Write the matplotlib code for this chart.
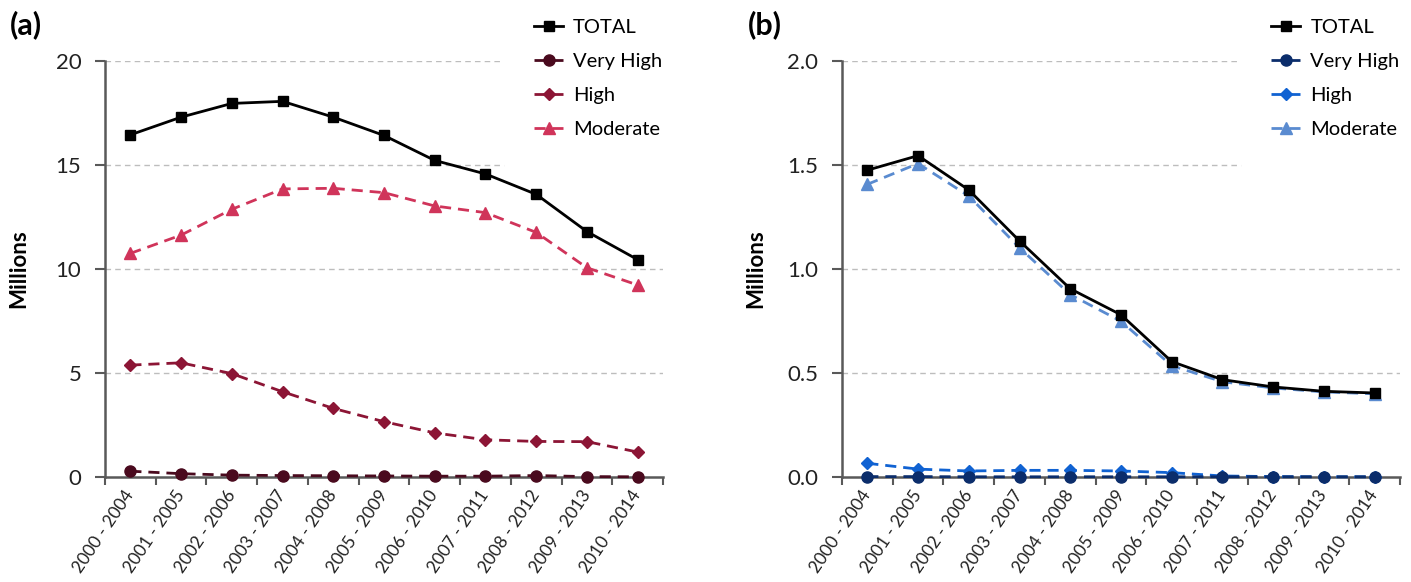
import matplotlib
matplotlib.use("Agg")
import matplotlib.pyplot as plt

plt.rcParams["font.family"] = ["Lato", "DejaVu Sans"]

periods = ["2000 - 2004", "2001 - 2005", "2002 - 2006", "2003 - 2007", "2004 - 2008",
           "2005 - 2009", "2006 - 2010", "2007 - 2011", "2008 - 2012", "2009 - 2013",
           "2010 - 2014"]

# panel (a)
a_total = [16.45, 17.3, 17.96, 18.06, 17.3, 16.42, 15.22, 14.57, 13.59, 11.8, 10.45]
a_very_high = [0.28, 0.16, 0.09, 0.07, 0.06, 0.05, 0.04, 0.04, 0.07, 0.02, 0.01]
a_high = [5.38, 5.49, 4.97, 4.1, 3.3, 2.66, 2.12, 1.79, 1.71, 1.7, 1.2]
a_moderate = [10.75, 11.63, 12.87, 13.85, 13.88, 13.67, 13.03, 12.71, 11.76, 10.06, 9.23]

# panel (b)
b_total = [1.475, 1.545, 1.38, 1.135, 0.905, 0.78, 0.555, 0.468, 0.433, 0.412, 0.404]
b_very_high = [0.002, 0.002, 0.001, 0.001, 0.001, 0.001, 0.001, 0.001, 0.001, 0.001, 0.001]
b_high = [0.066, 0.038, 0.029, 0.032, 0.032, 0.029, 0.021, 0.005, 0.002, 0.001, 0.001]
b_moderate = [1.407, 1.507, 1.351, 1.102, 0.877, 0.749, 0.535, 0.458, 0.428, 0.409, 0.4]

labels = ["TOTAL", "Very High", "High", "Moderate"]
colors_a = ["black", "#4a0a1e", "#8c1535", "#d0345a"]
colors_b = ["black", "#0b2d6b", "#1062d2", "#5a8bd0"]
markers = ["s", "o", "D", "^"]
msizes = [7.5, 8, 6.5, 8.5]

fig = plt.figure(figsize=(14.11, 5.82), dpi=100)
ax1 = fig.add_axes([0.0744, 0.1804, 0.3955, 0.7148])
ax2 = fig.add_axes([0.5967, 0.1804, 0.3955, 0.7148])

x = list(range(len(periods)))


def draw(ax, series, colors, ymax, step, fmt, leg_x, tag, tag_x):
    handles = []
    for i, (vals, c, m, ms) in enumerate(zip(series, colors, markers, msizes)):
        ls = "-" if i == 0 else (0, (4, 2.5))
        h, = ax.plot(x, vals, color=c, linestyle=ls, linewidth=2, marker=m,
                     markersize=ms, markerfacecolor=c, markeredgecolor=c,
                     zorder=5 - i if i else 6, clip_on=False)
        handles.append(h)
    ax.set_xlim(-0.5, len(periods) - 0.5)
    ax.set_ylim(0, ymax)
    ticks = [step * k for k in range(5)]
    ax.set_yticks(ticks)
    ax.set_yticklabels([fmt.format(t) for t in ticks], fontsize=16, color="#222222")
    for t in ticks[1:]:
        ax.axhline(t, color="#bdbdbd", linestyle=(0, (4, 3)), linewidth=1, zorder=1)
    ax.set_xticks(x)
    ax.set_xticklabels(periods, rotation=56, ha="right", va="center",
                       rotation_mode="anchor", fontsize=12.5, color="#222222")
    ax.set_xticks([k - 0.5 for k in range(len(periods) + 1)], minor=True)
    ax.tick_params(axis="x", which="major", length=0, pad=11)
    ax.tick_params(axis="x", which="minor", length=6, width=1.5, color="#595959")
    ax.tick_params(axis="y", length=7, width=1.5, color="#595959", pad=10)
    for s in ["top", "right"]:
        ax.spines[s].set_visible(False)
    for s in ["left", "bottom"]:
        ax.spines[s].set_color("#595959")
        ax.spines[s].set_linewidth(1.8)
    ax.set_ylabel("Millions", fontsize=16, fontweight="bold")
    ax.yaxis.set_label_coords(-0.135, 0.5)
    fig.legend(handles, labels, loc="upper left", bbox_to_anchor=(leg_x, 1.02),
               frameon=True, facecolor="white", edgecolor="none", framealpha=1,
               fontsize=14.5, handlelength=1.45, handletextpad=0.5,
               labelspacing=0.85, borderpad=1.5, borderaxespad=0)
    fig.text(tag_x, 1 - 25 / 582, tag, fontsize=22, fontweight="bold", va="center")


draw(ax1, [a_total, a_very_high, a_high, a_moderate], colors_a, 20, 5, "{:.0f}",
     0.357, "(a)", 0.007)
draw(ax2, [b_total, b_very_high, b_high, b_moderate], colors_b, 2.0, 0.5, "{:.1f}",
     0.8795, "(b)", 0.530)

fig.savefig("out.png", dpi=100)
